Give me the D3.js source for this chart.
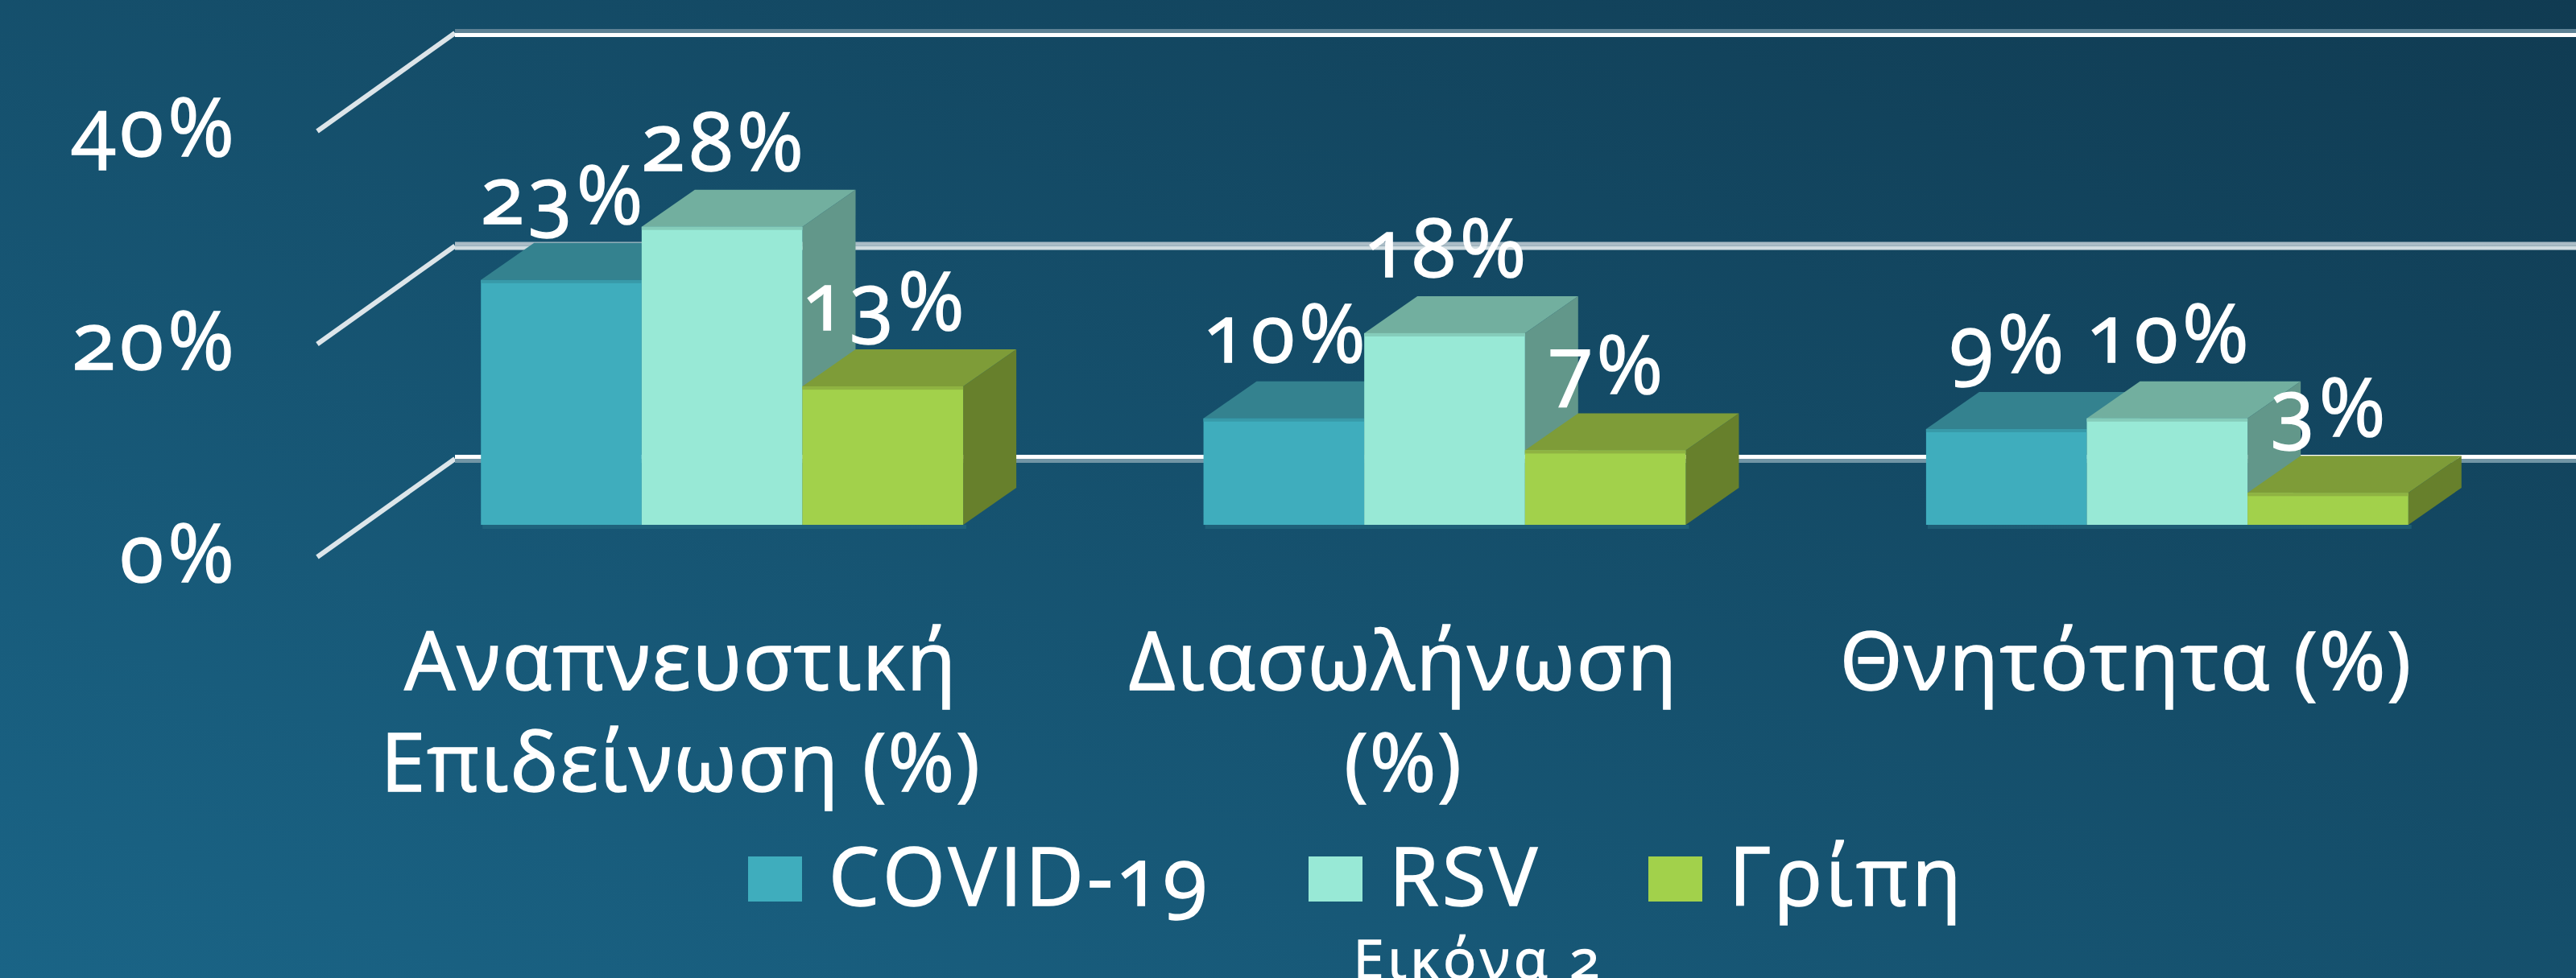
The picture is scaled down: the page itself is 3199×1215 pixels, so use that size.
<!DOCTYPE html>
<html lang="el">
<head>
<meta charset="utf-8">
<title>Εικόνα 2</title>
<script src="https://cdn.jsdelivr.net/npm/d3@7"></script>
<style>
  html, body { margin: 0; padding: 0; overflow: hidden; }
  text { font-family: "Open Sans", sans-serif; fill: #fff; stroke: #fff; stroke-width: 1.5px; font-variant-numeric: oldstyle-nums; font-feature-settings: "onum"; }
</style>
</head>
<body>
<svg width="3199" height="1215"></svg>
<script>
var categories = [["Αναπνευστική", "Επιδείνωση (%)"], ["Διασωλήνωση", "(%)"], ["Θνητότητα (%)"]];
var seriesNames = ["COVID-19", "RSV", "Γρίπη"];
var covid = [23, 10, 9];
var rsv = [28, 18, 10];
var flu = [13, 7, 3];
var ticks = [0, 20, 40];
var colors = ["#3fadbd", "#98e9d6", "#a2d14b"];
var topColors = ["#34828f", "#72af9f", "#7e9c38"];
var edgeColors = ["#389aa9", "#85ccba", "#8fb342"];
var sideColors = ["#2c7280", "#62978a", "#67802c"];

var values = [covid, rsv, flu];

var svg = d3.select("svg");
var defs = svg.append("defs");
var grad = defs.append("linearGradient")
  .attr("id", "bg")
  .attr("x1", 0).attr("y1", 1)
  .attr("x2", 1).attr("y2", 0);
grad.append("stop").attr("offset", "0").attr("stop-color", "#1a6486");
grad.append("stop").attr("offset", "1").attr("stop-color", "#103b52");

svg.append("rect").attr("width", 3199).attr("height", 1215).attr("fill", "url(#bg)");

// wall scale, the bars sit further forward on the floor
var y = d3.scaleLinear().domain([0, 40]).range([570, 41]);
var wallX = 565, floorX = 394, floorDy = 122;
var barShift = 82, depthX = 66, depthY = 46;

var x0 = d3.scaleBand().domain(d3.range(categories.length))
  .range([448, 3140]).paddingInner(0.3326).paddingOuter(0.1663);
var x1 = d3.scaleBand().domain(d3.range(seriesNames.length))
  .range([0, x0.bandwidth()]);

// grid lines come out of the picture as a bright and a dull stripe
function gridStripes(t) {
  if (t == 0) return [{ dy: -5, c: "#ffffff" }, { dy: 0, c: "#7195a5" }];
  if (t == 20) return [{ dy: -5, c: "#aabcc6" }, { dy: 0, c: "#cfdbe0" }];
  return [{ dy: -5, c: "#5d8194" }, { dy: 0, c: "#ffffff" }];
}

ticks.forEach(function(t) {
  svg.append("line")
    .attr("x1", floorX).attr("y1", y(t) + floorDy)
    .attr("x2", wallX).attr("y2", y(t))
    .attr("stroke", "#fff")
    .attr("stroke-opacity", 0.85)
    .attr("stroke-width", 6);
  gridStripes(t).forEach(function(st) {
    svg.append("rect")
      .attr("x", wallX).attr("y", y(t) + st.dy)
      .attr("width", 3199 - wallX).attr("height", 5)
      .attr("fill", st.c);
  });
  svg.append("text")
    .attr("x", 296)
    .attr("y", y(t) + 153)
    .attr("text-anchor", "end")
    .attr("font-size", 100)
    .attr("letter-spacing", 5)
    .text(t + "%");
});

categories.forEach(function(cat, c) {
  var g = svg.append("g").attr("transform", "translate(" + x0(c) + ",0)");
  var baseY = y(0) + barShift;

  // soft shadow along the foot of the group
  g.append("rect")
    .attr("x", 2).attr("y", baseY)
    .attr("width", x0.bandwidth() + 2).attr("height", 5)
    .attr("fill", "#2a7488").attr("fill-opacity", 0.45);

  values.forEach(function(vals, s) {
    var xl = x1(s), xr = xl + x1.bandwidth();
    var yt = y(vals[c]) + barShift;
    g.append("path")
      .attr("d", "M" + xr + "," + yt + "l" + depthX + "," + (-depthY) + "V" + (baseY - depthY) + "L" + xr + "," + baseY + "Z")
      .attr("fill", sideColors[s]);
    g.append("path")
      .attr("d", "M" + xl + "," + yt + "l" + depthX + "," + (-depthY) + "H" + (xr + depthX) + "L" + xr + "," + yt + "Z")
      .attr("fill", topColors[s]);
    g.append("rect")
      .attr("x", xl).attr("y", yt)
      .attr("width", x1.bandwidth()).attr("height", baseY - yt)
      .attr("fill", colors[s]);
    g.append("rect")
      .attr("x", xl).attr("y", yt)
      .attr("width", x1.bandwidth()).attr("height", 4)
      .attr("fill", edgeColors[s]);
  });
});

// data labels go on top of every bar
categories.forEach(function(cat, c) {
  values.forEach(function(vals, s) {
    svg.append("text")
      .attr("x", x0(c) + x1(s) + x1.bandwidth() / 2 + 3)
      .attr("y", y(vals[c]) + barShift - 70)
      .attr("text-anchor", "middle")
      .attr("font-size", 100)
      .attr("letter-spacing", 5)
      .text(vals[c] + "%");
  });
  cat.forEach(function(line, i) {
    svg.append("text")
      .attr("x", x0(c) + x0.bandwidth() / 2 - 51)
      .attr("y", 857 + i * 126)
      .attr("text-anchor", "middle")
      .attr("font-size", 100)
      .attr("letter-spacing", 2)
      .text(line);
  });
});

// legend
var legendX = [929, 1625, 2047];
seriesNames.forEach(function(name, s) {
  svg.append("rect")
    .attr("x", legendX[s]).attr("y", 1064)
    .attr("width", 67).attr("height", 56)
    .attr("fill", colors[s]);
  svg.append("text")
    .attr("x", legendX[s] + 100)
    .attr("y", 1125)
    .attr("font-size", 100)
    .attr("letter-spacing", 4)
    .text(name);
});

svg.append("text")
  .attr("x", 1836)
  .attr("y", 1216)
  .attr("text-anchor", "middle")
  .attr("font-size", 68)
  .attr("letter-spacing", 5)
  .text("Εικόνα 2");
</script>
</body>
</html>
